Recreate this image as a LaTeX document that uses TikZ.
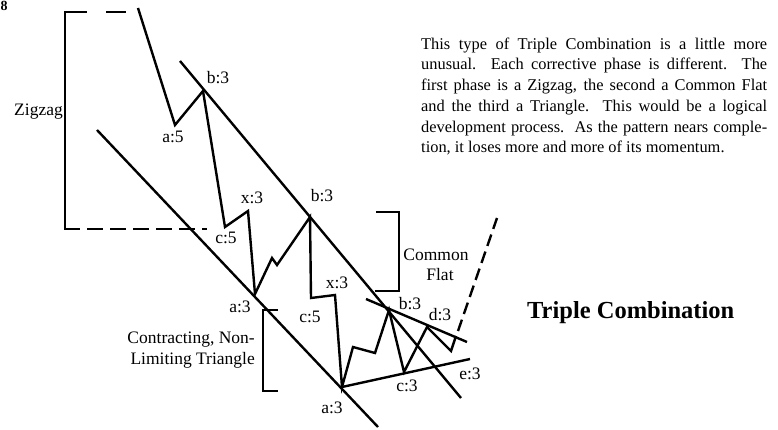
\documentclass[tikz,border=0pt]{standalone}
\usepackage{fontspec}
\setmainfont{Liberation Serif}
\begin{document}
\begin{tikzpicture}[x=1pt,y=-1pt,
  wave/.style={line width=2.4pt, line join=miter},
  chan/.style={line width=2.4pt},
  brk/.style={line width=1.9pt},
  lbl/.style={font=\fontsize{17.5}{18}\selectfont, inner sep=0pt},
  para/.style={font=\fontsize{16.4}{20}\selectfont, inner sep=0pt, anchor=base west},
  ]
\useasboundingbox (0,0) rectangle (778,430);
% wave points
\coordinate (p0) at (138,8);
\coordinate (a5) at (175,125);
\coordinate (b3a) at (203,91);
\coordinate (c5a) at (225,227);
\coordinate (x3a) at (248,211);
\coordinate (a3a) at (255,294);
\coordinate (q1) at (272,258);
\coordinate (q2) at (277,265);
\coordinate (b3b) at (310,217);
\coordinate (c5b) at (311,298);
\coordinate (x3b) at (335,295);
\coordinate (a3b) at (342,387);
\coordinate (r1) at (353,347);
\coordinate (r2) at (375,353);
\coordinate (b3c) at (389,310);
\coordinate (c3) at (404,372);
\coordinate (d3) at (427,327);
\coordinate (e3) at (451,351);
\coordinate (ee) at (456,336);
% channel / boundary ends
\coordinate (u1) at (180,61);
\coordinate (u2) at (461,398);
\coordinate (l1) at (97,130);
\coordinate (l2) at (378,427);
\coordinate (t1) at (366,299);
\coordinate (t2) at (467,342);
\coordinate (t3) at (470,359);
\coordinate (dd1) at (458,331);
\coordinate (dd2) at (497,218);
% bracket corners
\coordinate (zt) at (65,12);
\coordinate (zb) at (65,229);
\coordinate (zte) at (126,12);
\coordinate (zbe) at (207,229);
\coordinate (cf1) at (376,212);
\coordinate (cf2) at (399,212);
\coordinate (cf3) at (399,291);
\coordinate (cf4) at (375,291);
\coordinate (ct1) at (278,310);
\coordinate (ct2) at (263,310);
\coordinate (ct3) at (263,391);
\coordinate (ct4) at (278,391);

% channels
\draw[chan] (u1) -- (u2);
\draw[chan] (l1) -- (l2);
\draw[chan] (t1) -- (t2);
\draw[chan] (a3b) -- (t3);
% wave
\draw[wave] (p0) -- (a5) -- (b3a) -- (c5a) -- (x3a) -- (a3a) -- (q1) -- (q2)
  -- (b3b) -- (c5b) -- (x3b) -- (a3b) -- (r1) -- (r2) -- (b3c) -- (c3)
  -- (d3) -- (e3) -- (ee);
\draw[chan, dash pattern=on 12pt off 6pt] (dd1) -- (dd2);
% brackets
\draw[brk] (zt) -- (zb);
\draw[brk, dash pattern=on 23pt off 19pt] ([xshift=-0.95pt]zt) -- (zte);
\draw[brk, dash pattern=on 16pt off 7pt] ([xshift=-0.95pt]zb) -- (zbe);
\draw[brk] (cf1) -- (cf2) -- (cf3) -- (cf4);
\draw[brk] (ct1) -- (ct2) -- (ct3) -- (ct4);

% labels
\node[lbl] (la5) at (173,137) {a:5};
\node[lbl] (lb3a) at (218,78) {b:3};
\node[lbl] (lx3a) at (252,198) {x:3};
\node[lbl] (lc5a) at (226,238) {c:5};
\node[lbl] (lb3b) at (322,196) {b:3};
\node[lbl] (la3a) at (240,307) {a:3};
\node[lbl] (lx3b) at (337,283) {x:3};
\node[lbl] (lc5b) at (310,317) {c:5};
\node[lbl] (la3b) at (332,408) {a:3};
\node[lbl] (lb3c) at (410,304) {b:3};
\node[lbl] (ld3) at (440,315) {d:3};
\node[lbl] (lc3) at (407,386) {c:3};
\node[lbl] (le3) at (470,374) {e:3};
\node[lbl, anchor=east] (lzz) at (63,112) {Zigzag};
\node[lbl, anchor=base] (lcom) at (436,260) {Common};
\node[lbl, anchor=base] (lflat) at (440,280) {Flat};
\node[lbl, anchor=base east] (lcon1) at (255,343) {Contracting, Non-};
\node[lbl, anchor=base east] (lcon2) at (255,364) {Limiting Triangle};
\node[inner sep=0pt, anchor=base west, font=\fontsize{24.5}{26}\selectfont\bfseries] (title) at (527,318) {Triple Combination};
\node[inner sep=0pt, anchor=base west, font=\fontsize{14}{14}\selectfont\bfseries] (fig) at (0.5,10.5) {8};

% paragraph
\node[para] (l1t) at (421,49.3) {\makebox[346pt][s]{This type of Triple Combination is a little more}};
\node[para] (l2t) at (421,70) {\makebox[346pt][s]{unusual.\ \ Each corrective phase is different.\ \ The}};
\node[para] (l3t) at (421,90.7) {\makebox[346pt][s]{first phase is a Zigzag, the second a Common Flat}};
\node[para] (l4t) at (421,111.4) {\makebox[346pt][s]{and the third a Triangle.\ \ This would be a logical}};
\node[para] (l5t) at (421,132.1) {\makebox[346pt][s]{development process.\ \ As the pattern nears comple-}};
\node[para] (l6t) at (421,152.8) {tion, it loses more and more of its momentum.};
\end{tikzpicture}
\end{document}
